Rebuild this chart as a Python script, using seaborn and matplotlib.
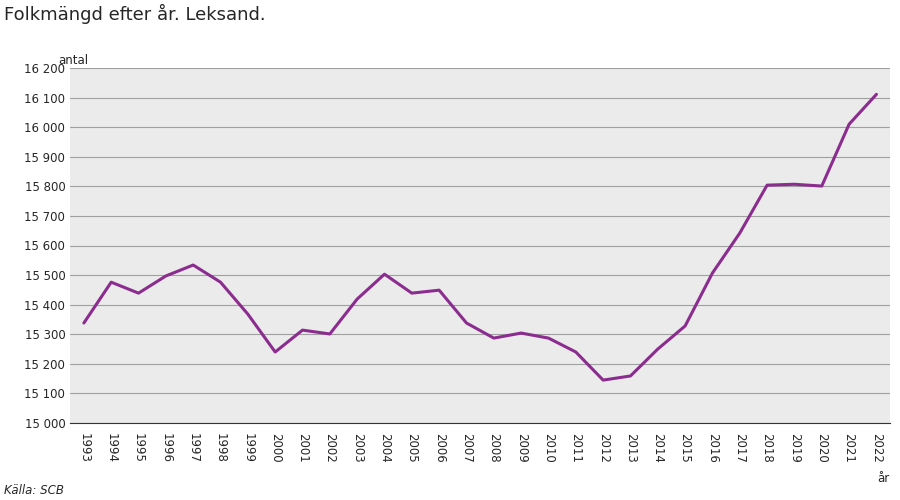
import matplotlib
matplotlib.use("Agg")
import matplotlib.pyplot as plt
import seaborn as sns
import pandas as pd

years = [str(y) for y in range(1993, 2023)]
population = [15338, 15476, 15439, 15497, 15534, 15476, 15368, 15240, 15314, 15301,
              15419, 15503, 15439, 15449, 15338, 15287, 15304, 15287, 15240, 15145,
              15159, 15250, 15328, 15507, 15642, 15804, 15807, 15801, 16010, 16111]
yticks = list(range(15000, 16201, 100))

df = pd.DataFrame({"year": years, "pop": population})

sns.set_style("white")
plt.rcParams["font.family"] = ["DejaVu Sans"]
fig = plt.figure(figsize=(9, 5), dpi=100)
ax = fig.add_axes([0.078, 0.154, 0.911, 0.71])
ax.set_facecolor("#ebebeb")
for t in yticks:
    ax.axhline(t, color="#a0a0a0", lw=0.8, zorder=0)
sns.lineplot(data=df, x="year", y="pop", ax=ax, color="#8B2C8F", lw=2.2, sort=False)
ax.set_xlim(-0.5, len(years) - 0.5)
ax.set_ylim(15000, 16200)
ax.set_yticks(yticks)
ax.set_yticklabels([f"{t:,}".replace(",", " ") for t in yticks], fontsize=8.5)
ax.set_xticks(range(len(years)))
ax.set_xticklabels(years, rotation=270, fontsize=8.5)
ax.tick_params(axis="x", length=4, color="#555555")
ax.tick_params(axis="y", length=0)
ax.set_xlabel("")
ax.set_ylabel("")
for s in ["top", "right", "left"]:
    ax.spines[s].set_visible(False)
ax.spines["bottom"].set_color("#333333")
fig.text(0.005, 0.96, "Folkmängd efter år. Leksand.", fontsize=13)
fig.text(0.065, 0.872, "antal", fontsize=8.5)
fig.text(0.975, 0.035, "år", fontsize=8.5)
fig.text(0.005, 0.012, "Källa: SCB", fontsize=8.5, style="italic")
fig.savefig("out.png", dpi=100)
